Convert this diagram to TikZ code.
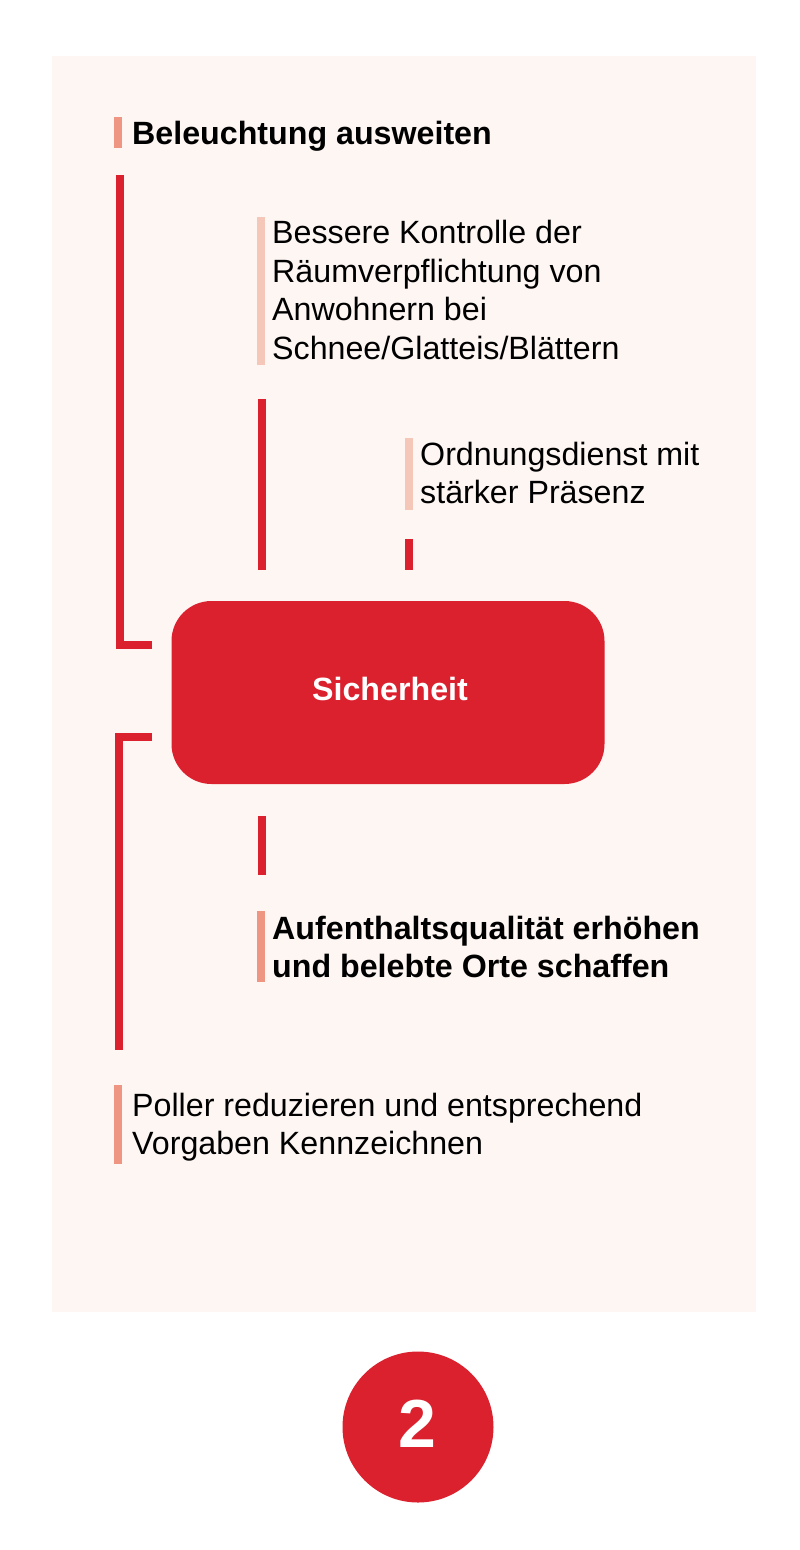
\documentclass[tikz,border=0pt]{standalone}
\usepackage{fontspec}
\setmainfont{Liberation Sans}
\definecolor{panelbg}{HTML}{FEF6F3}
\definecolor{mainred}{HTML}{DB202E}
\definecolor{barstrong}{HTML}{EF9683}
\definecolor{barlight}{HTML}{F5C7B8}
\tikzset{
	redline/.style={draw=mainred, line width=8},
	itembar/.style={fill=#1, inner sep=0, minimum width=8},
	itemtext/.style={anchor=west, inner sep=0, align=left, text=black, font=\fontsize{32.2}{38.5}\selectfont},
	itembold/.style={itemtext, font=\fontsize{32.2}{38.5}\selectfont\bfseries},
}
\begin{document}
\begin{tikzpicture}[x=1pt, y=-1pt]
	\useasboundingbox (0,0) rectangle (800,1550);
	\node (panel) [fill=panelbg, inner sep=0, minimum width=704, minimum height=1256] at (404,684) {};
	\node (sicherheit) [fill=mainred, rounded corners=40, inner sep=0, minimum width=433, minimum height=183] at (388,692.5) {};
	\node (sicherheitlabel) [text=white, inner sep=0, font=\fontsize{32.2}{36}\selectfont\bfseries] at (390,688.5) {Sicherheit};

	\node (bar1) [itembar=barstrong, minimum height=31] at (117.5,132.5) {};
	\node (bar2) [itembar=barlight, minimum height=148] at (261,291) {};
	\node (bar3) [itembar=barlight, minimum height=72] at (409,474) {};
	\node (bar4) [itembar=barstrong, minimum height=71] at (261,946.5) {};
	\node (bar5) [itembar=barstrong, minimum height=79] at (117.5,1124.5) {};

	\node (beleuchtung) [itembold] at (132,136) {Beleuchtung ausweiten};
	\node (kontrolle) [itemtext] at (272,290) {Bessere Kontrolle der\\Räumverpflichtung von\\Anwohnern bei\\Schnee/Glatteis/Blättern};
	\node (ordnung) [itemtext] at (420,473) {Ordnungsdienst mit\\stärker Präsenz};
	\node (aufenthalt) [itembold] at (272,947) {Aufenthaltsqualität erhöhen\\und belebte Orte schaffen};
	\node (poller) [itemtext] at (132,1127) {Poller reduzieren und entsprechend\\Vorgaben Kennzeichnen};

	\coordinate (l1a) at (119.5,175);
	\coordinate (l1b) at (152,645);
	\coordinate (l2a) at (262,399);
	\coordinate (l2b) at (262,570);
	\coordinate (l3a) at (409,539);
	\coordinate (l3b) at (409,570);
	\coordinate (l4a) at (262,816);
	\coordinate (l4b) at (262,875);
	\coordinate (l5a) at (152,737);
	\coordinate (l5b) at (119,1050);
	\draw[redline] (l1a) |- (l1b);
	\draw[redline] (l2a) -- (l2b);
	\draw[redline] (l3a) -- (l3b);
	\draw[redline] (l4a) -- (l4b);
	\draw[redline] (l5a) -| (l5b);

	\node (badge) [circle, fill=mainred, inner sep=0, minimum size=151] at (418,1427) {};
	\node (badgelabel) [text=white, inner sep=0, font=\fontsize{68}{80}\selectfont\bfseries] at (417,1424) {2};
\end{tikzpicture}
\end{document}
